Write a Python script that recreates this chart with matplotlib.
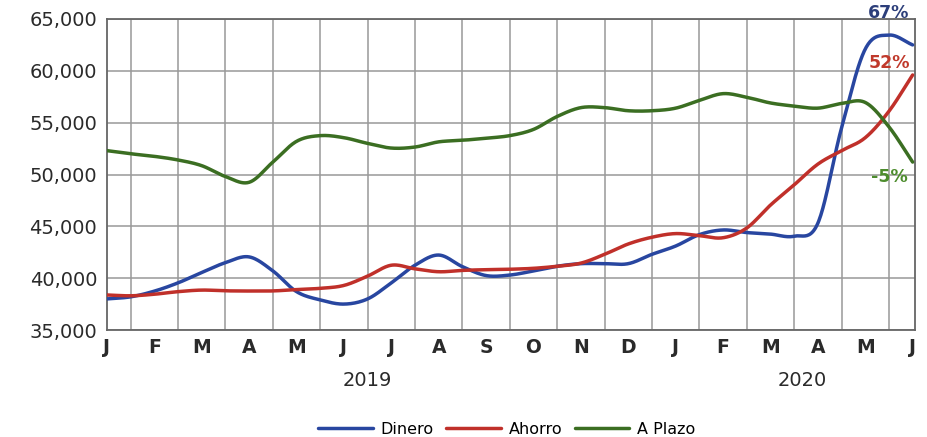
import numpy as np
import matplotlib
matplotlib.use("Agg")
import matplotlib.pyplot as plt

# Month labels, Jan 2019 - Jun 2020
months = ["J", "F", "M", "A", "M", "J", "J", "A", "S", "O", "N", "D",
          "J", "F", "M", "A", "M", "J"]
years = ["2019", "2020"]

# Balances sampled twice per month (index / 2 = month position)
dinero = [38000, 38200, 38750, 39550, 40550, 41500, 42050, 40700, 38700, 37900,
          37500, 38000, 39550, 41250, 42230, 41110, 40250, 40300, 40700, 41150,
          41400, 41400, 41400, 42300, 43100, 44200, 44650, 44400, 44250, 44050,
          45300, 54500, 62100, 63450, 62500]
ahorro = [38380, 38300, 38450, 38700, 38850, 38780, 38760, 38770, 38900, 39020,
          39300, 40200, 41250, 40900, 40620, 40750, 40820, 40860, 40950, 41150,
          41450, 42300, 43300, 43950, 44300, 44100, 43900, 44840, 47050, 49000,
          51000, 52300, 53550, 56100, 59600]
plazo = [52300, 52000, 51750, 51400, 50850, 49800, 49250, 51200, 53200, 53750,
         53550, 53000, 52550, 52650, 53150, 53300, 53500, 53750, 54350, 55600,
         56450, 56450, 56150, 56150, 56400, 57150, 57800, 57450, 56900, 56600,
         56400, 56850, 56950, 54600, 51200]

series_names = ["Dinero", "Ahorro", "A Plazo"]
change_labels = ["67%", "52%", "-5%"]


def smooth(x, y, n=24):
    """Catmull-Rom curve through the sampled points."""
    x = np.asarray(x, float)
    y = np.asarray(y, float)
    p = np.concatenate([[2 * y[0] - y[1]], y, [2 * y[-1] - y[-2]]])
    xs, ys = [], []
    for i in range(len(y) - 1):
        p0, p1, p2, p3 = p[i], p[i + 1], p[i + 2], p[i + 3]
        s = np.linspace(0, 1, n, endpoint=False)
        ys.append(0.5 * (2 * p1 + (-p0 + p2) * s
                         + (2 * p0 - 5 * p1 + 4 * p2 - p3) * s ** 2
                         + (-p0 + 3 * p1 - 3 * p2 + p3) * s ** 3))
        xs.append(x[i] + s * (x[i + 1] - x[i]))
    xs.append([x[-1]])
    ys.append([y[-1]])
    return np.concatenate(xs), np.concatenate(ys)


fig = plt.figure(figsize=(9.28, 4.37), dpi=100)
ax = fig.add_axes([107 / 928, 1 - 330 / 437, 808 / 928, 311 / 437])

t = np.arange(len(dinero)) / 2.0
colors = ["#2846a0", "#c0302a", "#3b6e22"]
label_colors = ["#2c3e7a", "#c0392b", "#4c8c2c"]
zorders = [3, 4, 5]
for vals, name, c, z in zip([dinero, ahorro, plazo], series_names, colors, zorders):
    xs, ys = smooth(t, vals)
    ax.plot(xs, ys, color=c, lw=2.5, label=name, zorder=z,
            solid_capstyle="round")

ax.set_xlim(0, 17.05)
ax.set_ylim(35000, 65000)
ax.set_yticks(np.arange(35000, 65001, 5000))
ax.yaxis.set_major_formatter(matplotlib.ticker.StrMethodFormatter("{x:,.0f}"))
ax.set_xticks(np.arange(len(months)))
ax.set_xticklabels(months, fontweight="bold")
ax.set_xticks(np.arange(len(months) - 1) + 0.5, minor=True)

ax.grid(True, which="minor", axis="x", color="#999999", lw=1.1)
ax.grid(True, which="major", axis="y", color="#999999", lw=1.1)
ax.set_axisbelow(True)
ax.tick_params(which="both", length=0)
ax.tick_params(axis="x", labelsize=13.5, pad=6, colors="#2a2a2a")
ax.tick_params(axis="y", labelsize=14, pad=7, colors="#2a2a2a")
for sp in ax.spines.values():
    sp.set_color("#666666")
    sp.set_linewidth(1.3)

# year captions under the month letters
trans = matplotlib.transforms.blended_transform_factory(ax.transData, ax.transAxes)
ax.text(5.5, -0.161, years[0], transform=trans, ha="center", va="center",
        fontsize=14, color="#2a2a2a")
ax.text(14.68, -0.161, years[1], transform=trans, ha="center", va="center",
        fontsize=14, color="#2a2a2a")

# percentage change tags near the series ends
tag_y = [65600, 60750, 49750]
for txt, c, yv in zip(change_labels, label_colors, tag_y):
    ax.text(16.5, yv, txt, ha="center", va="center", fontsize=12.5,
            fontweight="bold", color=c, clip_on=False, zorder=6)

fig.legend(loc="center", bbox_to_anchor=(507 / 928, 0.018), ncol=3,
           frameon=False, fontsize=11.5, handlelength=3.4, handletextpad=0.5,
           columnspacing=0.8)

fig.savefig("out.png", dpi=100, facecolor="white")
